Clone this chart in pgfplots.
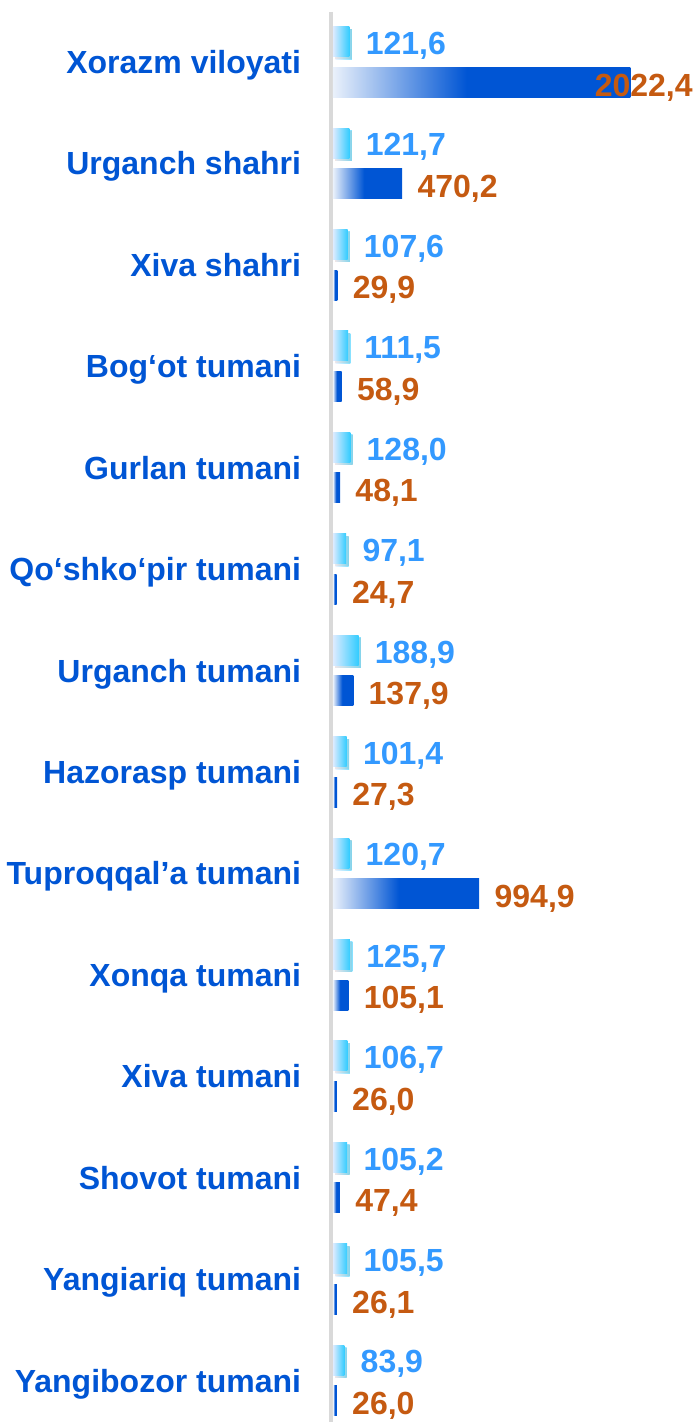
\documentclass[border=0pt]{standalone}
\usepackage{fontspec}
\setmainfont{Liberation Sans}
\usepackage{pgfplots}
\pgfplotsset{compat=1.18}
\usetikzlibrary{shadows}

\definecolor{labelblue}{HTML}{0055D4}
\definecolor{darkbar}{HTML}{0055D4}
\definecolor{darkfade}{HTML}{EAF1FB}
\definecolor{lightfade}{HTML}{DDEBFF}
\definecolor{lightbar}{HTML}{33CCFF}
\definecolor{lightval}{HTML}{3399FF}
\definecolor{darkval}{HTML}{C55A11}
\definecolor{axisgray}{HTML}{D9D9D9}
\definecolor{glow}{HTML}{F8CBAD}

\pgfdeclarehorizontalshading{darkgrad}{100bp}{color(0bp)=(darkfade); color(25bp)=(darkfade); color(47.5bp)=(darkbar); color(100bp)=(darkbar)}
\pgfdeclarehorizontalshading{lightgrad}{100bp}{color(0bp)=(lightfade); color(25bp)=(lightfade); color(75bp)=(lightbar); color(100bp)=(lightbar)}

\newcommand\bigfont{\fontsize{16}{19}\selectfont\bfseries}

\pgfplotsset{
  base/.style={
    at={(0,0)}, anchor=south west,
    width=183pt, height=711pt, scale only axis,
    xmin=0, ymin=-0.611, ymax=13.41, y dir=reverse,
    axis line style={draw=none}, tick style={draw=none},
    xtick=\empty, ytick=\empty,
    xbar, bar width=15pt, bar shift=0pt,
    nodes near coords, clip=false,
    /pgf/number format/.cd, fixed, fixed zerofill, precision=1,
      use comma, 1000 sep={}, assume math mode=true,
  },
  lbar/.style={draw=none, shade, shading=lightgrad,
    drop shadow={shadow xshift=1.2pt, shadow yshift=-1.2pt, fill=glow, opacity=0.6}},
  dbar/.style={draw=none, shade, shading=darkgrad},
}

\begin{document}
\begin{tikzpicture}
\useasboundingbox (-166.5pt,0) rectangle (183pt,711pt);

% growth rate, %
\begin{axis}[base, xmax=2711,
  every node near coord/.append style={font=\bigfont, text=lightval, anchor=base west, inner sep=0pt, xshift=8pt, yshift=-6.4pt}]
\addplot[lbar] coordinates {(121.6,-0.2)};
\addplot[lbar] coordinates {(121.7,0.8)};
\addplot[lbar] coordinates {(107.6,1.8)};
\addplot[lbar] coordinates {(111.5,2.8)};
\addplot[lbar] coordinates {(128.0,3.8)};
\addplot[lbar] coordinates {(97.1,4.8)};
\addplot[lbar] coordinates {(188.9,5.8)};
\addplot[lbar] coordinates {(101.4,6.8)};
\addplot[lbar] coordinates {(120.7,7.8)};
\addplot[lbar] coordinates {(125.7,8.8)};
\addplot[lbar] coordinates {(106.7,9.8)};
\addplot[lbar] coordinates {(105.2,10.8)};
\addplot[lbar] coordinates {(105.5,11.8)};
\addplot[lbar] coordinates {(83.9,12.8)};
\end{axis}

% volume
\begin{axis}[base, xmax=2490,
  ytick={0,...,13},
  yticklabels={Xorazm viloyati, Urganch shahri, Xiva shahri, Bog‘ot tumani,
    Gurlan tumani, Qo‘shko‘pir tumani, Urganch tumani, Hazorasp tumani,
    Tuproqqal’a tumani, Xonqa tumani, Xiva tumani, Shovot tumani,
    Yangiariq tumani, Yangibozor tumani},
  yticklabel style={font=\bigfont, text=labelblue, anchor=base east, inner sep=0pt, xshift=-11.5pt, yshift=-5.8pt},
  every node near coord/.append style={font=\bigfont, text=darkval, anchor=base west, inner sep=0pt, xshift=7.5pt, yshift=-6.9pt}]
\draw[line width=2pt, axisgray] ([xshift=-1.2pt]axis cs:0,-0.493) -- ([xshift=-1.2pt]axis cs:0,13.41);
\addplot[dbar, every node near coord/.append style={anchor=base east, xshift=23.9pt}] coordinates {(2022.4,0.2)};
\addplot[dbar] coordinates {(470.2,1.2)};
\addplot[dbar] coordinates {(29.9,2.2)};
\addplot[dbar] coordinates {(58.9,3.2)};
\addplot[dbar] coordinates {(48.1,4.2)};
\addplot[dbar] coordinates {(24.7,5.2)};
\addplot[dbar] coordinates {(137.9,6.2)};
\addplot[dbar] coordinates {(27.3,7.2)};
\addplot[dbar] coordinates {(994.9,8.2)};
\addplot[dbar] coordinates {(105.1,9.2)};
\addplot[dbar] coordinates {(26.0,10.2)};
\addplot[dbar] coordinates {(47.4,11.2)};
\addplot[dbar] coordinates {(26.1,12.2)};
\addplot[dbar] coordinates {(26.0,13.2)};
\end{axis}
\end{tikzpicture}
\end{document}
